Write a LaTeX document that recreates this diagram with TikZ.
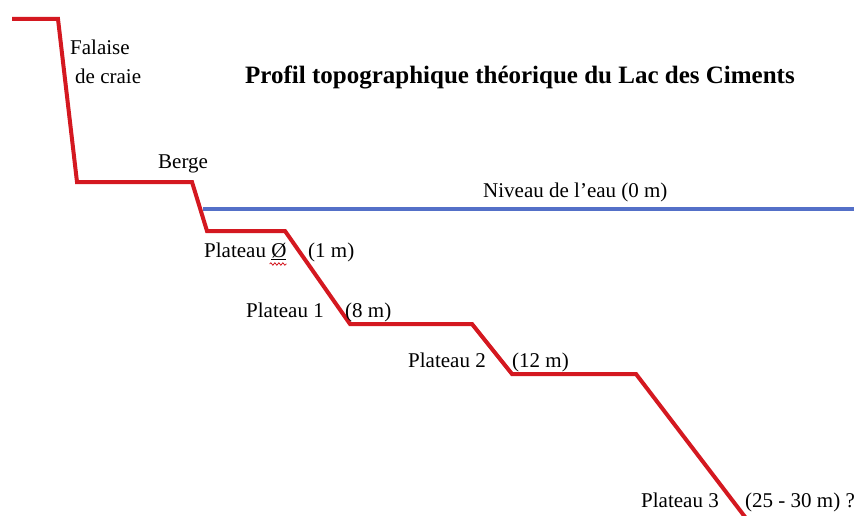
\documentclass[tikz,border=0pt]{standalone}
\usepackage{fontspec}
\setmainfont{Liberation Serif}
\usetikzlibrary{decorations.pathmorphing}
\definecolor{profred}{RGB}{212,24,32}
\definecolor{waterblue}{RGB}{84,112,200}
\begin{document}
\begin{tikzpicture}[x=1pt,y=-1pt,
  lbl/.style={anchor=base west,inner sep=0pt,font=\fontsize{21}{25}\selectfont},
  ttl/.style={anchor=base,inner sep=0pt,font=\fontsize{25}{30}\selectfont\bfseries},
  profile/.style={draw=profred,line width=4pt,line join=miter},
  water/.style={draw=waterblue,line width=4pt}]
\useasboundingbox[fill=white] (0,0) rectangle (854,516);
\clip (0,0) rectangle (854,516);
% profile points
\coordinate (p0) at (12,19);
\coordinate (p1) at (58,19);
\coordinate (p2) at (77,182);
\coordinate (p3) at (192,182);
\coordinate (p4) at (207,231);
\coordinate (p5) at (285,231);
\coordinate (p6) at (350,324);
\coordinate (p7) at (472,324);
\coordinate (p8) at (512,374);
\coordinate (p9) at (636,374);
\coordinate (p10) at (755,530);
% water level
\coordinate (w0) at (203,209);
\coordinate (w1) at (860,209);
\draw[water] (w0) -- (w1);
\draw[profile] (p0) -- (p1) -- (p2) -- (p3) -- (p4) -- (p5) -- (p6) -- (p7) -- (p8) -- (p9) -- (p10);
% labels
\node[ttl] (title) at (520,84) {Profil topographique théorique du Lac des Ciments};
\node[lbl] (falaise) at (70,55) {Falaise};
\node[lbl] (craie) at (75,84) {de craie};
\node[lbl] (berge) at (158,168) {Berge};
\node[lbl] (niveau) at (483,197) {Niveau de l’eau (0 m)};
\node[lbl] (pl0) at (204,257) {Plateau \underline{Ø}};
\node[lbl] (pl0d) at (308,257) {(1 m)};
\node[lbl] (pl1) at (246,317) {Plateau 1};
\node[lbl] (pl1d) at (345,317) {(8 m)};
\node[lbl] (pl2) at (408,367) {Plateau 2};
\node[lbl] (pl2d) at (512,367) {(12 m)};
\node[lbl] (pl3) at (641,507) {Plateau 3};
\node[lbl] (pl3d) at (745,507) {(25 - 30 m) ?};
% spell-check squiggle under the Ø
\coordinate (sq) at ([yshift=-7pt]pl0.base east);
\draw[profred,line width=0.8pt,decorate,decoration={snake,amplitude=1.2pt,segment length=4pt}]
  ([xshift=-17pt]sq) -- (sq);
\end{tikzpicture}
\end{document}
